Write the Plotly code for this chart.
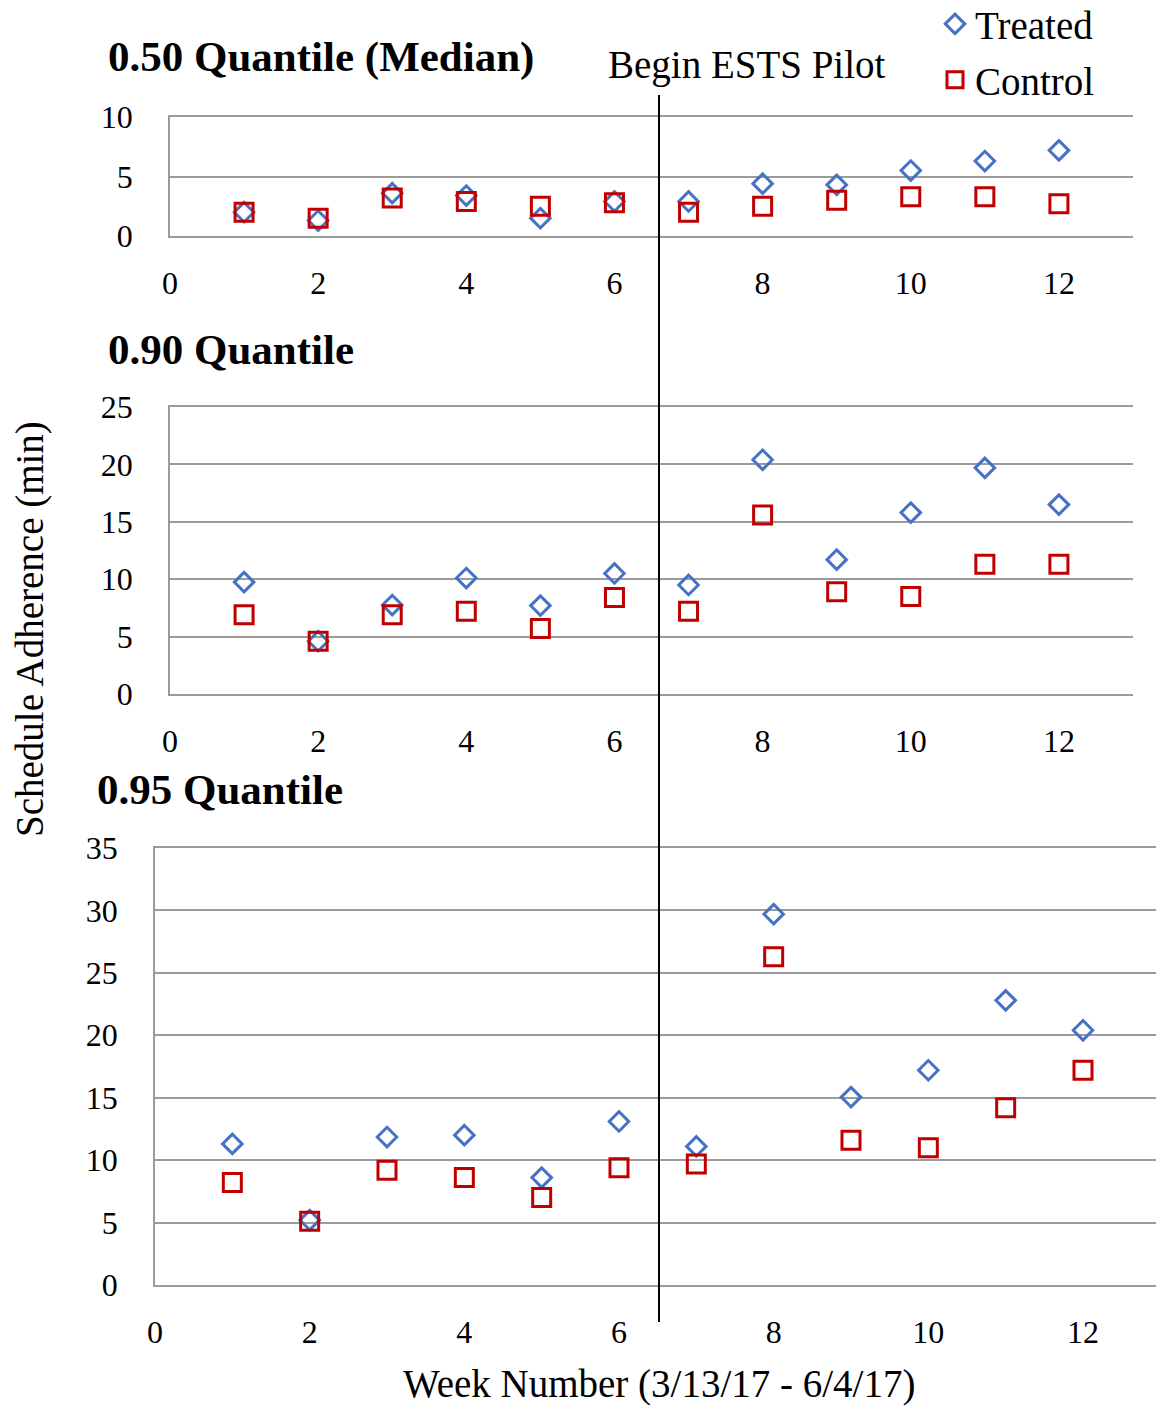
import plotly.graph_objects as go

weeks = [1, 2, 3, 4, 5, 6, 7, 8, 9, 10, 11, 12]

q50_treated = [2.0, 1.3, 3.6, 3.4, 1.5, 2.9, 2.9, 4.4, 4.3, 5.5, 6.3, 7.2]
q50_control = [2.0, 1.5, 3.2, 2.9, 2.5, 2.8, 2.0, 2.5, 3.0, 3.3, 3.3, 2.7]

q90_treated = [9.75, 4.6, 7.75, 10.1, 7.7, 10.5, 9.5, 20.4, 11.7, 15.8, 19.7, 16.5]
q90_control = [6.9, 4.6, 6.9, 7.2, 5.7, 8.4, 7.2, 15.6, 8.9, 8.5, 11.3, 11.3]

q95_treated = [11.3, 5.2, 11.85, 12.0, 8.6, 13.1, 11.1, 29.7, 15.05, 17.2, 22.8, 20.4]
q95_control = [8.2, 5.1, 9.2, 8.6, 7.0, 9.4, 9.7, 26.3, 11.6, 11.0, 14.2, 17.2]

panel_titles = ["0.50 Quantile (Median)", "0.90 Quantile", "0.95 Quantile"]

W, H = 1156, 1406
FONT = "Liberation Serif"
BLUE = "#4472C4"
RED = "#C00000"
GRID = "#9b9b9b"

def px(x):
    return x / W

def py(y):
    return 1 - y / H

fig = go.Figure()

panels = [
    (q50_treated, q50_control, "x", "y", True),
    (q90_treated, q90_control, "x2", "y2", False),
    (q95_treated, q95_control, "x3", "y3", False),
]

for tr, ct, xa, ya, show in panels:
    fig.add_trace(go.Scatter(
        x=weeks, y=tr, mode="markers", name="Treated", xaxis=xa, yaxis=ya,
        showlegend=show, legend="legend",
        marker=dict(symbol="diamond-open", size=15, color=BLUE, line=dict(width=3, color=BLUE)),
    ))
    fig.add_trace(go.Scatter(
        x=weeks, y=ct, mode="markers", name="Control", xaxis=xa, yaxis=ya,
        showlegend=show, legend="legend2",
        marker=dict(symbol="square-open", size=18, color=RED, line=dict(width=3, color=RED)),
    ))

tickfont = dict(family=FONT, size=32, color="black")

def xaxis_cfg(domain, rng, anchor):
    return dict(domain=domain, range=rng, anchor=anchor, dtick=2, tick0=0,
                showgrid=False, zeroline=False, showline=True, mirror=True,
                linecolor=GRID, linewidth=1.5, automargin=False,
                ticks="", tickfont=tickfont, ticklabelstandoff=18, fixedrange=True)

def yaxis_cfg(domain, rng, dtick, anchor):
    return dict(domain=domain, range=rng, anchor=anchor, dtick=dtick, tick0=0,
                showgrid=True, gridcolor=GRID, gridwidth=1.5, zeroline=False,
                showline=True, linecolor=GRID, linewidth=1.5, automargin=False,
                ticks="", tickfont=tickfont, ticklabelstandoff=29, fixedrange=True)

top_x = [px(170), px(1133)]
bot_x = [px(155), 1.0]
bot_range = [0, (W - 155) / ((1083 - 155) / 12)]

fig.update_layout(
    template="none",
    width=W, height=H,
    margin=dict(l=0, r=0, t=0, b=0, autoexpand=False),
    paper_bgcolor="white", plot_bgcolor="white",
    font=dict(family=FONT, size=32, color="black"),
    xaxis=xaxis_cfg(top_x, [0, 13], "y"),
    yaxis=yaxis_cfg([py(236), py(117)], [0, 10], 5, "x"),
    xaxis2=xaxis_cfg(top_x, [0, 13], "y2"),
    yaxis2=yaxis_cfg([py(694), py(407)], [0, 25], 5, "x2"),
    xaxis3=xaxis_cfg(bot_x, bot_range, "y3"),
    yaxis3=yaxis_cfg([py(1285), py(848)], [0, 35], 5, "x3"),
    legend=dict(x=px(935), y=py(24), xanchor="left", yanchor="middle",
                font=dict(family=FONT, size=39, color="black"),
                bgcolor="rgba(0,0,0,0)", itemwidth=30),
    legend2=dict(x=px(935), y=py(80), xanchor="left", yanchor="middle",
                 font=dict(family=FONT, size=39, color="black"),
                 bgcolor="rgba(0,0,0,0)", itemwidth=30),
)

# vertical "Begin ESTS Pilot" marker line (paper coordinates)
fig.add_shape(type="line", xref="paper", yref="paper",
              x0=px(659), x1=px(659), y0=py(1322), y1=py(95),
              line=dict(color="black", width=2))

ann = []
ann.append(dict(text="Begin ESTS Pilot", x=px(606), y=py(65), xanchor="left", yanchor="middle",
                font=dict(family=FONT, size=39, color="black")))
title_pos = [(106, 57), (106, 349), (95, 790)]
for t, (tx, ty) in zip(panel_titles, title_pos):
    ann.append(dict(text="<b>" + t + "</b>", x=px(tx), y=py(ty), xanchor="left", yanchor="middle",
                    font=dict(family=FONT, size=43, color="black")))
ann.append(dict(text="Schedule Adherence (min)", x=px(30), y=py(629), xanchor="center", yanchor="middle",
                textangle=-90, font=dict(family=FONT, size=39, color="black")))
ann.append(dict(text="Week Number (3/13/17 - 6/4/17)", x=px(659), y=py(1384), xanchor="center",
                yanchor="middle", font=dict(family=FONT, size=39, color="black")))
for a in ann:
    a.update(xref="paper", yref="paper", showarrow=False)
fig.update_layout(annotations=ann)

fig.write_html("out.html")
